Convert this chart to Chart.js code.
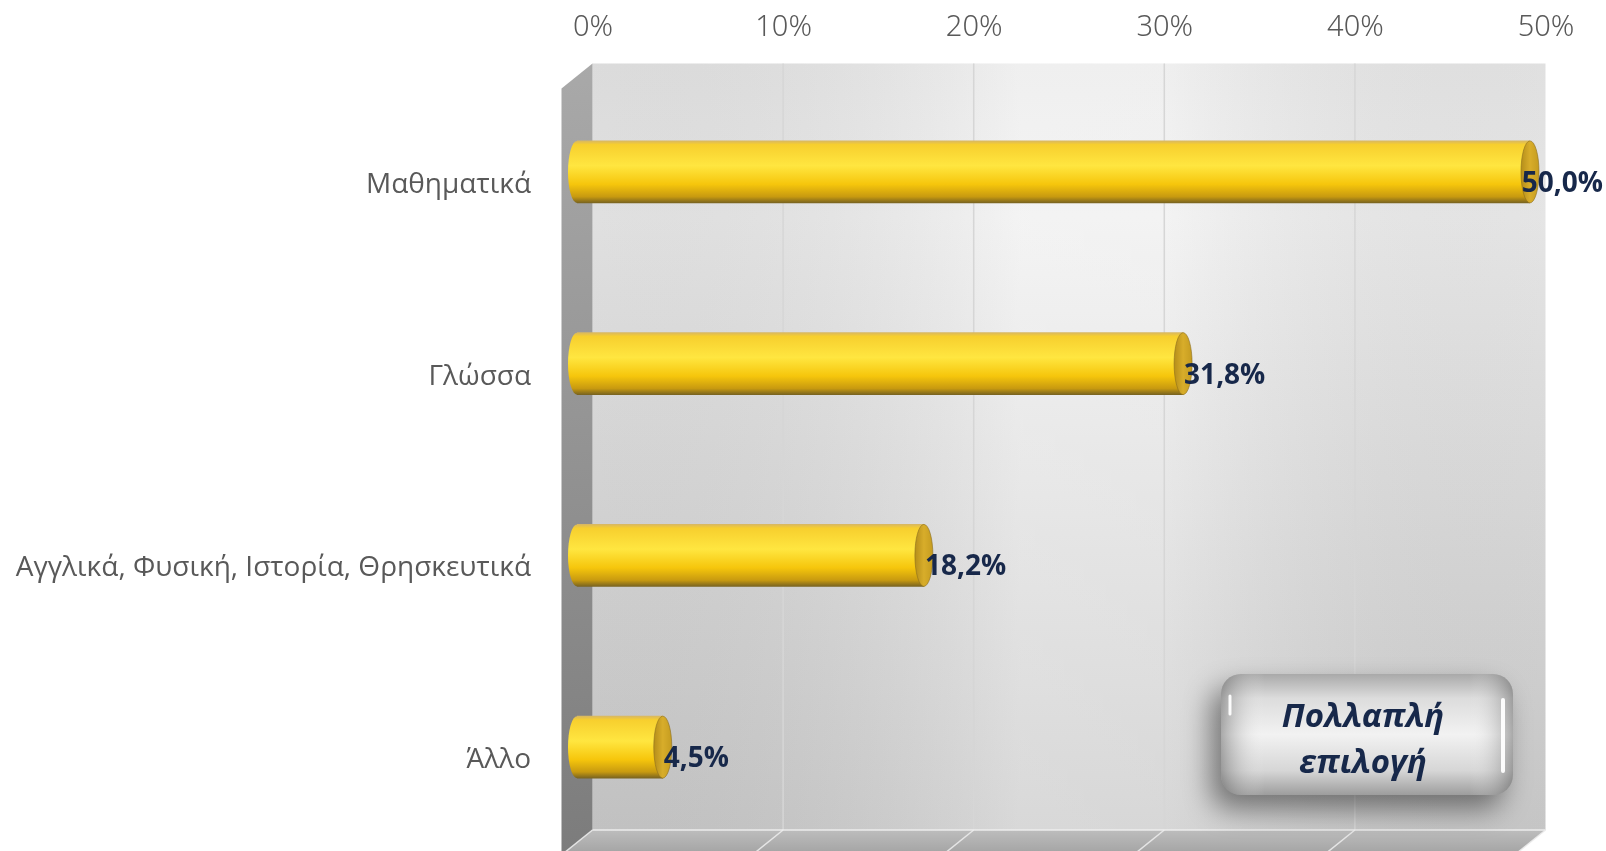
<!DOCTYPE html>
<html>
<head>
<meta charset="utf-8">
<script src="https://cdn.jsdelivr.net/npm/chart.js@4.4.1/dist/chart.umd.min.js"></script>
<style>
html,body{margin:0;padding:0;background:#fff;}
#wrap{width:1606px;height:851px;}
</style>
</head>
<body>
<div id="wrap"><canvas id="chart" width="1606" height="851"></canvas></div>
<script>
// data
const categories = ['Μαθηματικά', 'Γλώσσα', 'Αγγλικά, Φυσική, Ιστορία, Θρησκευτικά', 'Άλλο'];
const shares = [50.0, 31.8, 18.2, 4.5];
const tickValues = [0, 10, 20, 30, 40, 50];
const noteLines = ['Πολλαπλή', 'επιλογή'];

// 3d depth: back wall sits up/right of the bar plane
const DX = 15.5, DY = -12.5;
const BAR_H = 62, CAP_RX = 9;

function barGradient(ctx, top, bottom){
    const g = ctx.createLinearGradient(0, top, 0, bottom);
    g.addColorStop(0, '#d9b860');
    g.addColorStop(0.06, '#f7cf2e');
    g.addColorStop(0.4, '#ffe640');
    g.addColorStop(0.7, '#f6c60c');
    g.addColorStop(0.9, '#c89a10');
    g.addColorStop(1, '#7a6420');
    return g;
}

const wallPlugin = {
    id: 'wall',
    beforeDraw(chart){
        const {ctx, chartArea: ca, scales} = chart;
        const L = ca.left + DX, R = ca.right + DX, T = ca.top + DY, B = 830;
        const fx = -2*DX, fy = 25;
        ctx.save();
        // back wall
        let g = ctx.createLinearGradient(0, T, 0, B);
        g.addColorStop(0, '#ececec');
        g.addColorStop(0.2, '#f1f1f1');
        g.addColorStop(1, '#d0d0d0');
        ctx.fillStyle = g;
        ctx.fillRect(L, T, R-L, B-T);
        g = ctx.createLinearGradient(L, 0, R, 0);
        g.addColorStop(0, 'rgba(0,0,0,0.07)');
        g.addColorStop(0.45, 'rgba(255,255,255,0.18)');
        g.addColorStop(0.6, 'rgba(255,255,255,0.15)');
        g.addColorStop(1, 'rgba(0,0,0,0.05)');
        ctx.fillStyle = g;
        ctx.fillRect(L, T, R-L, B-T);
        // left side wall
        g = ctx.createLinearGradient(0, T, 0, 851);
        g.addColorStop(0, '#a9a9a9');
        g.addColorStop(1, '#7c7c7c');
        ctx.fillStyle = g;
        ctx.beginPath();
        ctx.moveTo(L, T); ctx.lineTo(L+fx, T+fy); ctx.lineTo(L+fx, 860); ctx.lineTo(L, B);
        ctx.closePath(); ctx.fill();
        // floor
        g = ctx.createLinearGradient(0, B, 0, B+fy);
        g.addColorStop(0, '#bdbdbd');
        g.addColorStop(1, '#a2a2a2');
        ctx.fillStyle = g;
        ctx.beginPath();
        ctx.moveTo(L, B); ctx.lineTo(R, B); ctx.lineTo(R+fx, B+fy); ctx.lineTo(L+fx, B+fy);
        ctx.closePath(); ctx.fill();
        // grid lines on wall and floor
        const xs = scales.x;
        tickValues.forEach(v => {
            const gx = xs.getPixelForValue(v) + DX;
            if (v > 0 && v < 50){
                ctx.strokeStyle = '#d6d6d6';
                ctx.lineWidth = 1.5;
                ctx.beginPath(); ctx.moveTo(gx, T); ctx.lineTo(gx, B); ctx.stroke();
            }
            ctx.strokeStyle = 'rgba(235,235,235,0.9)';
            ctx.lineWidth = 1.5;
            ctx.beginPath(); ctx.moveTo(gx, B); ctx.lineTo(gx+fx, B+fy); ctx.stroke();
        });
        ctx.strokeStyle = 'rgba(240,240,240,0.9)';
        ctx.beginPath(); ctx.moveTo(L, B); ctx.lineTo(R, B); ctx.stroke();
        ctx.restore();
    }
};

const capPlugin = {
    id: 'caps',
    afterDatasetsDraw(chart){
        const {ctx} = chart;
        const meta = chart.getDatasetMeta(0);
        ctx.save();
        meta.data.forEach((bar, i) => {
            const top = bar.y - BAR_H/2, bottom = bar.y + BAR_H/2;
            const ry = BAR_H/2;
            // rounded left end of the cylinder
            ctx.fillStyle = barGradient(ctx, top, bottom);
            ctx.beginPath();
            ctx.ellipse(bar.base, bar.y, CAP_RX, ry, 0, Math.PI/2, Math.PI*1.5);
            ctx.closePath(); ctx.fill();
            // end face
            const g = ctx.createLinearGradient(bar.x - CAP_RX, 0, bar.x + CAP_RX, 0);
            g.addColorStop(0, '#b58e1a');
            g.addColorStop(0.5, '#d8ad2a');
            g.addColorStop(1, '#c59c20');
            ctx.fillStyle = g;
            ctx.beginPath();
            ctx.ellipse(bar.x, bar.y, CAP_RX, ry, 0, 0, Math.PI*2);
            ctx.fill();
            ctx.strokeStyle = 'rgba(140,110,30,0.6)';
            ctx.lineWidth = 1;
            ctx.stroke();
            // value label, kept inside the canvas
            ctx.fillStyle = '#17284a';
            ctx.font = 'bold 28px "Open Sans", "Noto Sans", sans-serif';
            ctx.textAlign = 'left';
            ctx.textBaseline = 'middle';
            const txt = shares[i].toFixed(1).replace('.', ',') + '%';
            const tw = ctx.measureText(txt).width;
            const lx = Math.min(bar.x + 1, chart.width - tw - 3);
            ctx.fillText(txt, lx, bar.y + 12);
        });
        ctx.restore();
    }
};

const notePlugin = {
    id: 'note',
    afterDraw(chart){
        const {ctx} = chart;
        const x = 1221, y = 674, w = 292, h = 121, r = 20;
        ctx.save();
        ctx.shadowColor = 'rgba(0,0,0,0.45)';
        ctx.shadowBlur = 28;
        ctx.shadowOffsetX = -10;
        ctx.shadowOffsetY = 14;
        let g = ctx.createLinearGradient(0, y, 0, y+h);
        g.addColorStop(0, '#a9a9a9');
        g.addColorStop(0.2, '#dcdcdc');
        g.addColorStop(0.5, '#f2f2f2');
        g.addColorStop(0.8, '#d6d6d6');
        g.addColorStop(1, '#9d9d9d');
        ctx.fillStyle = g;
        ctx.beginPath();
        ctx.roundRect(x, y, w, h, r);
        ctx.fill();
        ctx.shadowColor = 'transparent';
        // side shading
        g = ctx.createLinearGradient(x, 0, x+w, 0);
        g.addColorStop(0, 'rgba(80,80,80,0.45)');
        g.addColorStop(0.15, 'rgba(255,255,255,0)');
        g.addColorStop(0.85, 'rgba(255,255,255,0)');
        g.addColorStop(1, 'rgba(80,80,80,0.45)');
        ctx.fillStyle = g;
        ctx.beginPath(); ctx.roundRect(x, y, w, h, r); ctx.fill();
        // gloss strips
        ctx.strokeStyle = 'rgba(255,255,255,0.95)';
        ctx.lineWidth = 4;
        ctx.lineCap = 'round';
        ctx.beginPath(); ctx.moveTo(x+w-10, y+26); ctx.lineTo(x+w-10, y+h-24); ctx.stroke();
        ctx.lineWidth = 3;
        ctx.beginPath(); ctx.moveTo(x+9, y+22); ctx.lineTo(x+9, y+40); ctx.stroke();
        // text
        ctx.fillStyle = '#17284a';
        ctx.font = 'italic bold 33px "Open Sans", "Noto Sans", sans-serif';
        ctx.textAlign = 'center';
        ctx.textBaseline = 'middle';
        ctx.fillText(noteLines[0], x + w/2 - 4, y + 44);
        ctx.fillText(noteLines[1], x + w/2 - 4, y + 90);
        ctx.restore();
    }
};

const ctx = document.getElementById('chart').getContext('2d');
const chart = new Chart(ctx, {
    type: 'bar',
    data: {
        labels: categories,
        datasets: [{
            data: shares,
            barThickness: BAR_H,
            borderWidth: 0,
            backgroundColor: (c) => {
                const ch = c.chart;
                if (!ch.chartArea || !ch.scales.y) return '#f6c60c';
                const yc = ch.scales.y.getPixelForValue(c.dataIndex);
                return barGradient(ch.ctx, yc - BAR_H/2, yc + BAR_H/2);
            }
        }]
    },
    options: {
        indexAxis: 'y',
        responsive: false,
        animation: false,
        layout: {padding: {left: 0, right: 76, top: 0, bottom: 8}},
        plugins: {legend: {display: false}, tooltip: {enabled: false}},
        scales: {
            x: {
                position: 'top',
                min: 0, max: 50,
                afterFit: (s) => { s.height = 76; s.paddingLeft = 0; s.paddingRight = 0; },
                afterBuildTicks: (s) => { s.ticks = tickValues.map(v => ({value: v})); },
                grid: {display: false, drawTicks: false},
                border: {display: false},
                ticks: {
                    padding: 31,
                    labelOffset: 16,
                    color: '#595959',
                    font: {family: '"Liberation Sans Narrow", "Noto Sans", sans-serif', size: 29, weight: '300'},
                    callback: (v) => v + '%'
                }
            },
            y: {
                afterFit: (s) => { s.width = 577; s.paddingTop = 0; s.paddingBottom = 0; },
                grid: {display: false, drawTicks: false},
                border: {display: false},
                ticks: {
                    padding: 46,
                    labelOffset: 13,
                    color: '#595959',
                    font: {family: '"Open Sans", "Noto Sans", sans-serif', size: 28}
                }
            }
        }
    },
    plugins: [wallPlugin, capPlugin, notePlugin]
});
</script>
</body>
</html>
